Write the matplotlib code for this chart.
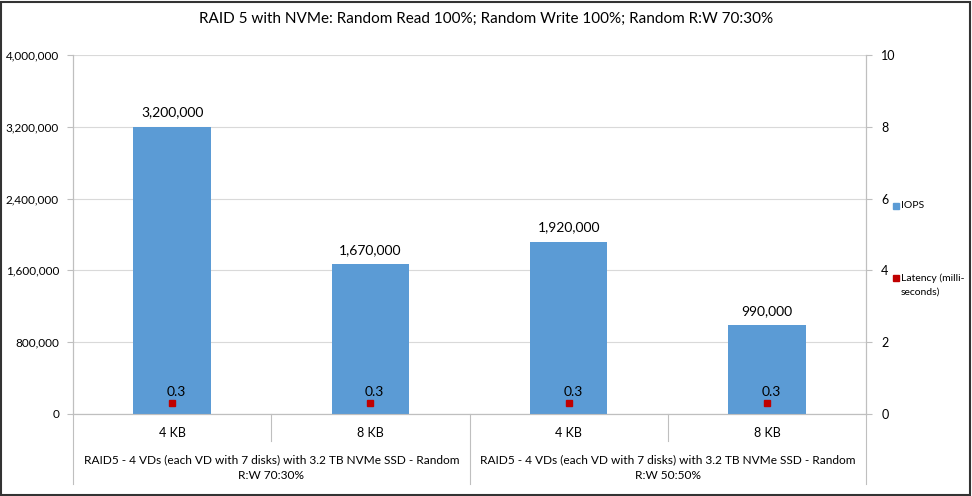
import matplotlib
matplotlib.use("Agg")
import matplotlib.pyplot as plt
from matplotlib.patches import Rectangle
from matplotlib.lines import Line2D
import matplotlib.transforms as mtransforms
from matplotlib.ticker import FuncFormatter

plt.rcParams['font.family'] = ['Lato', 'DejaVu Sans']

title = "RAID 5 with NVMe: Random Read 100%; Random Write 100%; Random R:W 70:30%"
block_sizes = ["4 KB", "8 KB", "4 KB", "8 KB"]
groups = ["RAID5 - 4 VDs (each VD with 7 disks) with 3.2 TB NVMe SSD - Random\nR:W 70:30%",
          "RAID5 - 4 VDs (each VD with 7 disks) with 3.2 TB NVMe SSD - Random\nR:W 50:50%"]
iops = [3200000, 1670000, 1920000, 990000]
latency = [0.3, 0.3, 0.3, 0.3]
left_ticks = [0, 800000, 1600000, 2400000, 3200000, 4000000]
right_ticks = [0, 2, 4, 6, 8, 10]

W, H = 972, 496
fig = plt.figure(figsize=(W / 100, H / 100), dpi=100)
ax = fig.add_axes([73 / W, (H - 414) / H, (866 - 73) / W, (414 - 55) / H])
ax2 = ax.twinx()

x = list(range(len(iops)))
ax.bar(x, iops, width=0.39, color="#5b9bd5", zorder=3)
ax.set_xlim(-0.5, len(iops) - 0.5)
ax.set_ylim(0, 4000000)
ax.set_yticks(left_ticks)
ax.yaxis.set_major_formatter(FuncFormatter(lambda v, p: f"{int(v):,}"))
ax.grid(axis="y", color="#d9d9d9", linewidth=0.8, zorder=0)
ax.set_xticks([])
ax.spines["top"].set_visible(False)
ax2.spines["top"].set_visible(False)
for a in (ax, ax2):
    a.spines["left"].set_color("#bfbfbf")
    a.spines["right"].set_color("#bfbfbf")
    a.spines["bottom"].set_color("#bfbfbf")
ax.tick_params(axis="y", length=4, color="#bfbfbf", labelsize=8.5, pad=6)

for xi, v in zip(x, iops):
    ax.annotate(f"{v:,}", (xi, v), xytext=(0, 6), textcoords="offset points",
                ha="center", va="bottom", fontsize=10)

ax2.plot(x, latency, linestyle="none", marker="s", markersize=4.5, color="#c00000",
         label="Latency (milli-\nseconds)", zorder=4)
ax2.set_ylim(0, 10)
ax2.set_yticks(right_ticks)
ax2.tick_params(axis="y", length=4, color="#bfbfbf", labelsize=9, pad=7)
for xi, v in zip(x, latency):
    ax2.annotate(f"{v}", (xi, v), xytext=(3, 4), textcoords="offset points",
                 ha="center", va="bottom", fontsize=10)

# category axis labels and separators
tr = mtransforms.blended_transform_factory(ax.transData, ax.transAxes)
ph = 414 - 55
for xi, lab in zip(x, block_sizes):
    ax.text(xi, -(433 - 414) / ph, lab, transform=tr, ha="center", va="center", fontsize=9)
for gi, g in enumerate(groups):
    ax.text(gi * 2 + 0.5, -(468 - 414) / ph, g, transform=tr, ha="center", va="center",
            fontsize=8.6, linespacing=1.5)
for b in [-0.5, 1.5, 3.5]:
    ax.add_line(Line2D([b, b], [0, -(484 - 414) / ph], transform=tr, color="#bfbfbf",
                       linewidth=0.8, clip_on=False))
for b in [0.5, 2.5]:
    ax.add_line(Line2D([b, b], [0, -(441 - 414) / ph], transform=tr, color="#bfbfbf",
                       linewidth=0.8, clip_on=False))

# legend
fig.patches.append(Rectangle((893 / W, 1 - 209 / H), 6 / W, 6 / H, transform=fig.transFigure,
                             color="#5b9bd5"))
fig.text(901 / W, 1 - 206 / H, "IOPS", fontsize=7.5, va="center", ha="left")
fig.patches.append(Rectangle((893 / W, 1 - 281 / H), 6 / W, 6 / H, transform=fig.transFigure,
                             color="#c00000"))
fig.text(901 / W, 1 - 278 / H, "Latency (milli-", fontsize=7.5, va="center", ha="left")
fig.text(901 / W, 1 - 292 / H, "seconds)", fontsize=7.5, va="center", ha="left")

fig.text(0.5, 1 - 19 / H, title, ha="center", va="center", fontsize=11)

fig.patches.append(Rectangle((1 / W, 1 / H), (W - 3) / W, (H - 3) / H, transform=fig.transFigure,
                             fill=False, edgecolor="#333333", linewidth=1.5))

fig.savefig("out.png", dpi=100)
